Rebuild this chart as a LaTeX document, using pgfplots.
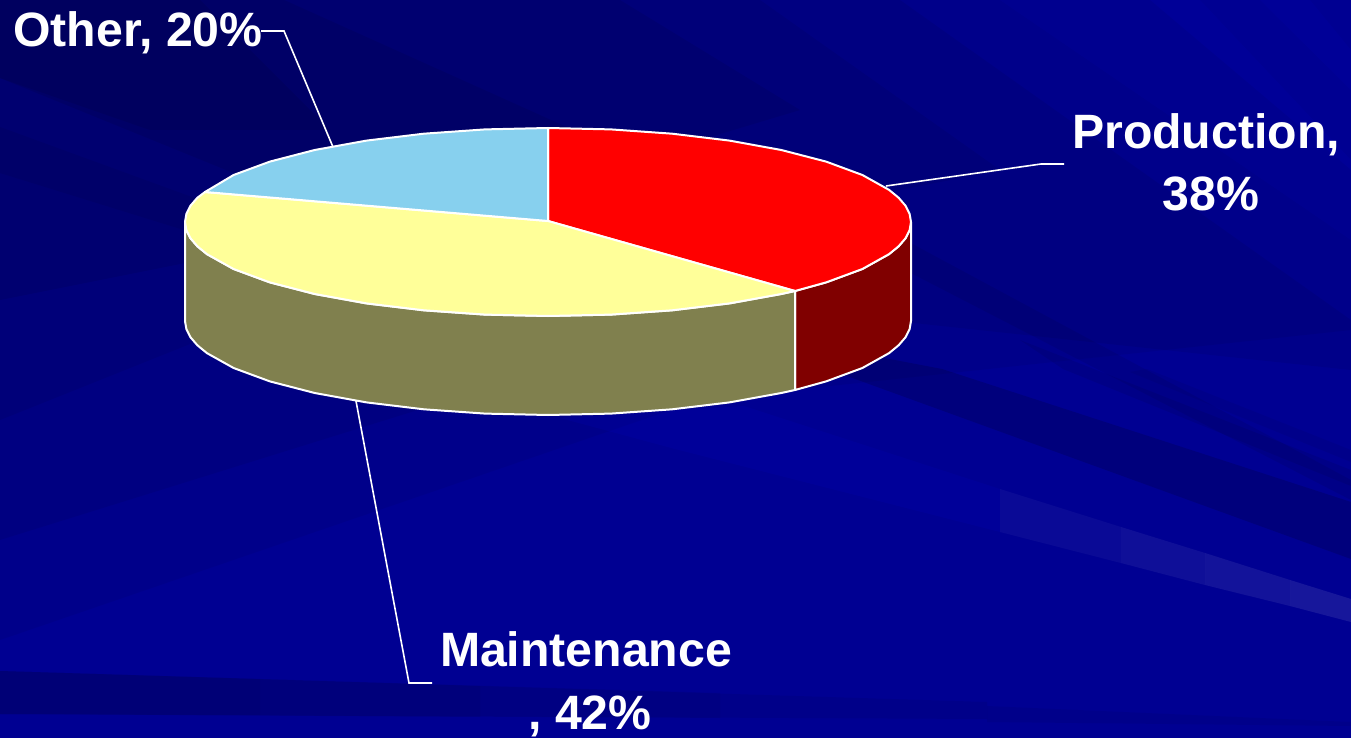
\documentclass[border=0pt]{standalone}
\usepackage{fontspec}
\setmainfont{Liberation Sans}
\usepackage{pgfplots}
\pgfplotsset{compat=1.18}
\definecolor{bgbase}{HTML}{000092}
\definecolor{pieRed}{HTML}{FF0000}
\definecolor{pieRedSide}{HTML}{800000}
\definecolor{pieYellow}{HTML}{FFFF99}
\definecolor{pieOlive}{HTML}{80804E}
\definecolor{pieBlue}{HTML}{87D0EE}
% background streak: colour, opacity, polygon in picture pixels
\newcommand{\streak}[3]{\addplot[fill=#1,fill opacity=#2,draw=none,forget plot] coordinates {#3} -- cycle;}
\newcommand{\slice}[2]{\addplot[fill=#1,draw=white,line width=1pt,line join=round,forget plot] coordinates {#2} -- cycle;}
\newcommand{\leader}[1]{\addplot[draw=white,line width=0.8pt,forget plot] coordinates {#1};}
\newcommand{\lbl}[2]{\node[anchor=base,text=white,font=\fontsize{24.1}{29}\selectfont\bfseries,inner sep=0pt] at (axis cs:#1) {#2};}
\begin{document}
\begin{tikzpicture}
\begin{axis}[
    scale only axis,
    width=675.5pt,
    height=369pt,
    xmin=0, xmax=1351,
    ymin=0, ymax=738,
    y dir=reverse,
    hide axis,
    clip=true,
]
% background
\streak{bgbase}{1}{(0,0)(1351,0)(1351,738)(0,738)}
% upper left goes dark in overlapping fans
\streak{black}{0.05}{(0,0)(1150,0)(1351,170)(1351,330)(700,400)(0,640)}
\streak{black}{0.06}{(0,0)(900,0)(1351,320)(1351,370)(700,300)(450,400)(0,540)}
\streak{black}{0.06}{(0,0)(760,0)(1000,170)(600,250)(300,300)(0,420)}
\streak{black}{0.07}{(0,0)(620,0)(800,110)(500,200)(300,240)(0,300)}
\streak{black}{0.08}{(0,0)(284,0)(640,160)(300,200)(0,78)}
\streak{black}{0.07}{(0,0)(200,0)(330,130)(150,130)(0,78)}
\streak{black}{0.06}{(0,127)(200,200)(200,235)(0,173)}
% streaks right of the pie
\streak{black}{0.07}{(905,240)(1351,480)(1351,500)(905,270)}
\streak{black}{0.15}{(942,369)(1351,502)(1351,559)(847,376)(790,340)}
\streak{black}{0.07}{(1063,369)(1351,486)(1351,470)(1020,340)}
\streak{black}{0.05}{(1147,369)(1351,450)(1351,462)(1130,372)}
% top right rays
\streak{blue}{0.05}{(1000,0)(1200,0)(1351,160)(1351,240)}
\streak{blue}{0.05}{(1260,0)(1310,0)(1351,50)(1351,90)}
% lighter band
\streak{blue}{0.07}{(744,406)(1000,489)(1000,532)(675,449)(560,418)}
\streak{white}{0.04}{(1000,489)(1121,527)(1121,563)(1000,532)}
\streak{white}{0.06}{(1121,527)(1205,553)(1205,585)(1121,563)}
\streak{white}{0.075}{(1205,553)(1290,580)(1290,606)(1205,585)}
\streak{white}{0.09}{(1290,580)(1351,599)(1351,622)(1290,606)}
% bottom band
\streak{black}{0.06}{(0,671)(987,702)(987,719)(0,714)}
\streak{black}{0.05}{(0,671)(720,693)(720,718)(0,714)}
\streak{black}{0.05}{(0,671)(480,686)(480,717)(0,714)}
\streak{black}{0.04}{(0,671)(260,679)(260,715)(0,714)}
\streak{black}{0.05}{(987,706)(1351,722)(1351,726)(987,722)}
% leaders
\leader{(261,31)(284,31)(333,147)}
\leader{(886,186)(1041,164)(1064,164)}
\leader{(356,401)(409,683)(432,683)}
% sides of the pie
\slice{pieRedSide}{(911,222)(909.6,230.2)(905.5,238.3)(898.6,246.3)(889.1,254.1)(862.4,269)(826.1,282.4)(795,291)(795,390)(826.1,381.4)(862.4,368)(889.1,353.1)(898.6,345.3)(905.5,337.3)(909.6,329.2)(911,321)}
\slice{pieOlive}{(795,291)(781.3,294)(729.5,303.4)(672.2,310.3)(611,314.6)(548,316)(485,314.6)(423.8,310.3)(366.5,303.4)(314.7,294)(269.9,282.4)(233.6,269)(206.9,254.1)(197.4,246.3)(190.5,238.3)(186.4,230.2)(185,222)(185,321)(186.4,329.2)(190.5,337.3)(197.4,345.3)(206.9,353.1)(233.6,368)(269.9,381.4)(314.7,393)(366.5,402.4)(423.8,409.3)(485,413.6)(548,415)(611,413.6)(672.2,409.3)(729.5,402.4)(781.3,393)(795,390)}
% top of the pie: Production 38, Maintenance 42, Other 20
\slice{pieRed}{(548,221)(548,128)(611,129.4)(672.2,133.7)(729.5,140.6)(781.3,150)(826.1,161.6)(862.4,175)(889.1,189.9)(898.6,197.7)(905.5,205.7)(909.6,213.8)(911,222)(909.6,230.2)(905.5,238.3)(898.6,246.3)(889.1,254.1)(862.4,269)(826.1,282.4)(795,291)}
\slice{pieYellow}{(548,221)(795,291)(781.3,294)(729.5,303.4)(672.2,310.3)(611,314.6)(548,316)(485,314.6)(423.8,310.3)(366.5,303.4)(314.7,294)(269.9,282.4)(233.6,269)(206.9,254.1)(197.4,246.3)(190.5,238.3)(186.4,230.2)(185,222)(186.4,213.8)(190.5,205.7)(197.4,197.7)(205,192)}
\slice{pieBlue}{(548,221)(205,192)(233.6,175)(269.9,161.6)(314.7,150)(366.5,140.6)(423.8,133.7)(485,129.4)(548,128)}
% labels
\lbl{138,47}{Other, 20\%}
\lbl{1206,149}{Production,}
\lbl{1211,211}{38\%}
\lbl{586,666}{Maintenance}
\lbl{590,729}{, 42\%}
\end{axis}
\end{tikzpicture}
\end{document}
